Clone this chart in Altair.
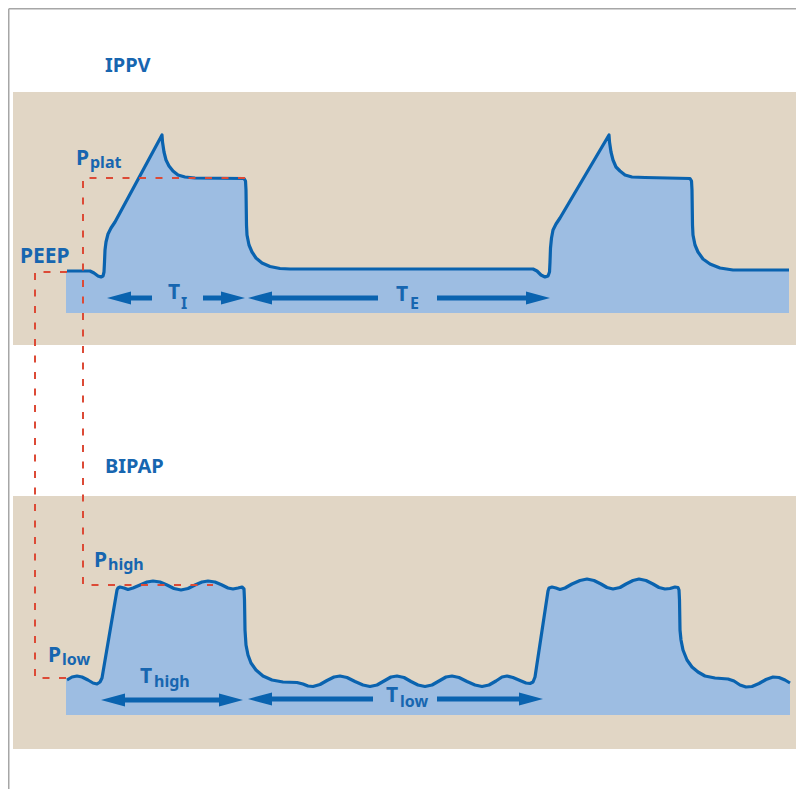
import altair as alt
import pandas as pd

# ---------------- data (page-pixel coordinates) -------------
panel_x0 = [13, 13]
panel_x1 = [799, 799]
panel_y0 = [92, 496]
panel_y1 = [345, 749]

ippv_x = [67, 90, 94, 98, 101, 103, 104, 104.5, 105, 106, 108, 111, 115, 162,
          162.5, 164, 166, 169, 173, 178, 185, 195, 244, 245.5, 246, 246.5, 247, 249,
          252, 256, 262, 270, 280, 290, 533, 537, 541, 545, 548, 549.5, 550, 550.5,
          551.5, 553, 556, 560, 609, 609.5, 611, 613, 616, 620, 625, 632, 645, 690,
          691.5, 692, 692.5, 693, 695, 698, 703, 710, 720, 733, 789]
ippv_y = [271, 271, 273, 276, 277, 276, 272, 262, 250, 242, 234, 228, 222, 135,
          142, 152, 160, 166, 171, 175, 177, 178, 178.5, 181, 190, 225, 235, 245,
          252, 258, 263, 266.5, 268.5, 269, 269, 271, 275, 277, 276, 272, 262, 248,
          238, 230, 224, 218, 135, 142, 152, 160, 167, 171, 175, 177, 177.5, 178.5,
          181, 190, 225, 235, 245, 252, 259, 264, 268, 270, 270]

bipap_x = [67, 72, 77, 82, 88, 93, 97, 100, 102, 117, 118, 120, 124, 128, 133, 140,
           147, 153, 160, 167, 174, 181, 188, 195, 202, 208, 215, 222, 228, 233, 238,
           242, 244, 244.5, 245, 246, 248, 251, 256, 263, 272, 283, 297, 303, 308,
           313, 320, 327, 334, 340, 347, 355, 363, 370, 377, 384, 391, 397, 404, 411,
           418, 425, 432, 439, 446, 452, 459, 467, 475, 482, 489, 496, 502, 507, 513,
           520, 526, 530, 533, 535, 548, 549, 552, 556, 560, 565, 572, 580, 587, 594,
           601, 607, 613, 620, 626, 633, 639, 646, 653, 659, 665, 670, 675, 678, 679,
           679.5, 680, 681, 683, 687, 692, 698, 705, 715, 728, 734, 740, 746, 752,
           759, 766, 773, 779, 785, 790]
bipap_y = [680, 677, 676, 677, 680, 683, 684, 682, 678, 590, 588, 587, 588, 589.5,
           588, 585, 582, 581, 582, 585, 588.5, 590, 588.5, 585, 582, 581, 582, 585,
           588, 589, 588, 587, 589, 600, 630, 645, 655, 663, 670, 676, 680, 682,
           682.5, 684, 686, 686.5, 684.5, 680.5, 677, 676, 677.5, 681.5, 685, 686.5,
           685, 681, 677, 676, 677.5, 681.5, 685, 686.5, 685, 681, 677, 676, 677.5,
           681.5, 685, 686.5, 685, 681, 677, 676, 677.5, 680.5, 683, 683.5, 682, 677,
           591, 588, 587, 588, 589.5, 588, 584, 580.5, 579, 580.5, 584, 587.5, 589,
           587.5, 584, 580.5, 579, 580.5, 584, 587.5, 589, 588.5, 587, 587.5, 590,
           600, 630, 640, 650, 660, 667, 672, 676, 678, 679, 681, 685, 687, 686.5,
           683.5, 679.5, 677, 677.5, 680, 683]

fill_left = [66, 66]
fill_base = [313, 715]

# dashed guide lines (two polylines)
pplat_dash_x = [245, 83, 83, 213]
pplat_dash_y = [178, 178, 585, 585]
peep_dash_x = [67, 35, 35, 75]
peep_dash_y = [272, 272, 678, 678]

# arrow shafts
shaft_x0 = [130, 203, 270, 437, 123, 270, 437]
shaft_x1 = [152, 222, 378, 528, 222, 373, 522]
shaft_y = [298, 298, 298, 298, 700, 699, 699]

# arrow heads (tip position + direction)
head_tip_x = [107, 245, 248, 550, 101, 243, 248, 543]
head_y = [298, 298, 298, 298, 700, 700, 699, 699]
head_dir = ["left", "right", "left", "right", "left", "right", "left", "right"]
head_len = 24

# labels
title_text = ["IPPV", "BIPAP"]
title_x = [105, 105]
title_y = [72, 473]

main_text = ["PEEP", "P", "T", "T", "P", "P", "T", "T"]
main_x = [20, 76, 168, 396, 94, 48, 140, 386]
main_y = [263, 165, 299, 301, 567, 662, 683, 702]

sub_text = ["plat", "I", "E", "high", "low", "high", "low"]
sub_x = [90, 181, 410, 108, 62, 154, 400]
sub_y = [168, 309, 309, 570, 665, 687, 707]

# ---------------- styling -------------
BEIGE = "#E1D6C5"
FILL = "#9DBDE2"
LINE = "#0A63AF"
TEXT = "#1766B0"
DASH = "#DC4A36"
FONT = "Noto Sans"

# visible page area is 8..796 x 8..789 (8px page margin on every side)
PX0, PX1, PY0, PY1 = 8, 796, 8, 789
xs = alt.Scale(domain=[PX0, PX1], nice=False, zero=False)
ys = alt.Scale(domain=[PY0, PY1], nice=False, zero=False, reverse=True)


def X(f):
    return alt.X(f, type="quantitative", scale=xs, axis=None)


def Y(f):
    return alt.Y(f, type="quantitative", scale=ys, axis=None)


panels = pd.DataFrame({"x0": panel_x0, "x1": [min(v, PX1) for v in panel_x1],
                       "y0": panel_y0, "y1": panel_y1})

wave = pd.concat([
    pd.DataFrame({"x": ippv_x, "y": ippv_y, "base": fill_base[0], "g": "ippv"}),
    pd.DataFrame({"x": bipap_x, "y": bipap_y, "base": fill_base[1], "g": "bipap"}),
], ignore_index=True)
wave["i"] = range(len(wave))

fills = pd.concat([
    pd.DataFrame({"x": [fill_left[0]] + ippv_x, "y": [ippv_y[0]] + ippv_y, "base": fill_base[0], "g": "ippv"}),
    pd.DataFrame({"x": [fill_left[1]] + bipap_x, "y": [bipap_y[0]] + bipap_y, "base": fill_base[1], "g": "bipap"}),
], ignore_index=True)

dashes = pd.concat([
    pd.DataFrame({"x": pplat_dash_x, "y": pplat_dash_y, "g": "pplat"}),
    pd.DataFrame({"x": peep_dash_x, "y": peep_dash_y, "g": "peep"}),
], ignore_index=True)
dashes["i"] = range(len(dashes))

shafts = pd.DataFrame({"x0": shaft_x0, "x1": shaft_x1, "y": shaft_y})

heads = pd.DataFrame({"tip": head_tip_x, "y": head_y, "dir": head_dir})
heads["x"] = [t + head_len / 2 if d == "left" else t - head_len / 2
              for t, d in zip(heads["tip"], heads["dir"])]

titles = pd.DataFrame({"t": title_text, "x": title_x, "y": title_y})
mains = pd.DataFrame({"t": main_text, "x": main_x, "y": main_y})
subs = pd.DataFrame({"t": sub_text, "x": sub_x, "y": sub_y})

border = pd.DataFrame({"x0": [8.75, 8.75], "x1": [8.75, PX1], "y0": [8.75, 8.75], "y1": [PY1, 8.75]})

# ---------------- layers -------------
l_border = alt.Chart(border).mark_rule(color="#A6A6A6", strokeWidth=1.5).encode(
    x=X("x0"), x2="x1", y=Y("y0"), y2="y1")

l_panels = alt.Chart(panels).mark_rect(color=BEIGE).encode(
    x=X("x0"), x2="x1", y=Y("y0"), y2="y1")

l_fill = alt.Chart(fills).mark_area(color=FILL, opacity=1).encode(
    x=X("x"), y=Y("y").stack(None), y2="base:Q", detail="g:N")

l_line = alt.Chart(wave).mark_line(color=LINE, strokeWidth=3.2, strokeJoin="round",
                                   strokeCap="butt").encode(
    x=X("x"), y=Y("y"), detail="g:N", order="i:Q")

l_dash = alt.Chart(dashes).mark_line(color=DASH, strokeWidth=2, strokeDash=[7, 9.5]).encode(
    x=X("x"), y=Y("y"), detail="g:N", order="i:Q")

l_shaft = alt.Chart(shafts).mark_rule(color=LINE, strokeWidth=5, strokeCap="butt").encode(
    x=X("x0"), x2="x1", y=Y("y"))

l_head_l = alt.Chart(heads).transform_filter(alt.datum.dir == "left").mark_point(
    shape="M-1,0L1,-0.55L1,0.55Z", size=head_len ** 2, filled=True, color=LINE,
    opacity=1, strokeWidth=0).encode(x=X("x"), y=Y("y"))

l_head_r = alt.Chart(heads).transform_filter(alt.datum.dir == "right").mark_point(
    shape="M1,0L-1,-0.55L-1,0.55Z", size=head_len ** 2, filled=True, color=LINE,
    opacity=1, strokeWidth=0).encode(x=X("x"), y=Y("y"))

l_titles = alt.Chart(titles).mark_text(font=FONT, fontSize=20, fontWeight="bold", color=TEXT,
                                       align="left", baseline="alphabetic").encode(
    x=X("x"), y=Y("y"), text="t:N")

l_mains = alt.Chart(mains).mark_text(font=FONT, fontSize=21, fontWeight="bold", color=TEXT,
                                     align="left", baseline="alphabetic").encode(
    x=X("x"), y=Y("y"), text="t:N")

l_subs = alt.Chart(subs).mark_text(font=FONT, fontSize=16, fontWeight="bold", color=TEXT,
                                   align="left", baseline="alphabetic").encode(
    x=X("x"), y=Y("y"), text="t:N")

chart = alt.layer(
    l_panels, l_border, l_fill, l_line, l_shaft, l_head_l, l_head_r,
    l_dash, l_titles, l_mains, l_subs
).properties(
    width=PX1 - PX0, height=PY1 - PY0, padding=0, autosize=alt.AutoSizeParams(type="none"),
    background="white"
).configure_view(stroke=None)

chart.save("out.html", embed_options={"renderer": "svg", "actions": False})
